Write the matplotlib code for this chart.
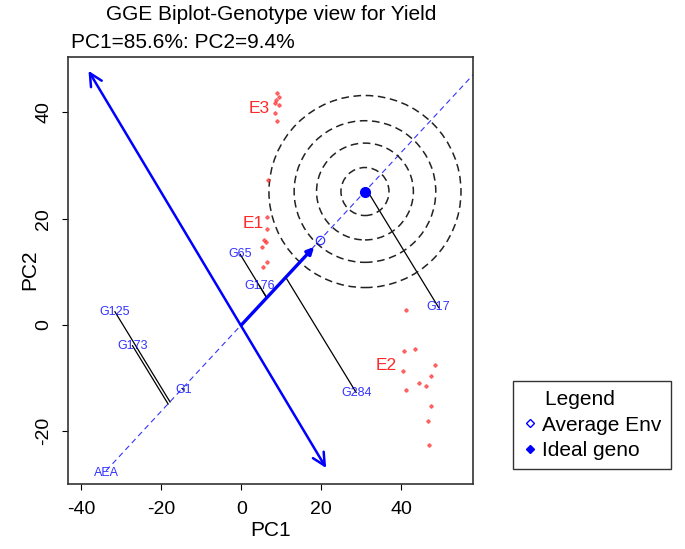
import numpy as np
import matplotlib.pyplot as plt
from matplotlib.lines import Line2D
from matplotlib.patches import Ellipse

plt.rcParams['font.family'] = ['Liberation Sans', 'DejaVu Sans']
plt.rcParams['axes.unicode_minus'] = False

# genotypes (PC1, PC2)
geno_names = ["G125", "G173", "G1", "G65", "G176", "G284", "G17"]
geno_pc1 = [-31.6, -27.2, -14.5, -0.3, 4.5, 28.7, 49.3]
geno_pc2 = [2.5, -3.9, -12.2, 13.3, 7.4, -12.7, 3.3]

# environments (unlabelled points) and their group labels
env_pc1 = [8.8, 9.3, 8.7, 8.4, 9.3, 8.4, 8.8,
           6.75, 6.5, 6.3, 5.7, 6.1, 5.2, 6.5, 5.5,
           41.2, 40.6, 43.4, 40.3, 48.4, 47.5, 44.3, 46.1, 41.2, 47.4, 46.7, 46.9]
env_pc2 = [43.6, 42.9, 42.4, 41.7, 41.4, 39.8, 38.3,
           27.3, 20.4, 18.0, 16.0, 15.7, 14.7, 11.9, 11.0,
           2.8, -4.8, -4.6, -8.6, -7.6, -9.6, -11.0, -11.5, -12.3, -15.2, -18.0, -22.5]
env_group_names = ["E3", "E1", "E2"]
env_group_pc1 = [4.5, 3.0, 36.3]
env_group_pc2 = [40.8, 19.0, -7.7]

avg_env = (19.7, 16.0)
avg_arrow_tip = (18.2, 14.7)
ideal_geno = (30.9, 25.1)
ring_radii = [6.0, 12.1, 17.7, 24.0]   # in PC1 units
perp_ends = [(-38.2, 47.8), (21.2, -26.9)]
aea_start = (-33.8, -27.4)

xlim = (-43.25, 57.9)
ylim = (-29.9, 50.4)

fig = plt.figure(figsize=(6.85, 5.49), dpi=100)
ax = fig.add_axes([0.0997, 0.1184, 0.5908, 0.7778])
ax.set_xlim(xlim)
ax.set_ylim(ylim)

blue = '#0000ff'
red = '#ff2a2a'

# average environment axis (through origin)
d = np.array(avg_env) / np.hypot(*avg_env)
t_end = (xlim[1] + 5) / d[0]
ax.plot([aea_start[0], d[0] * t_end], [aea_start[1], d[1] * t_end],
        color=blue, lw=0.8, alpha=0.8, dashes=(5, 3.5), zorder=2)

# projection lines of genotypes onto the axis
for gx, gy in zip(geno_pc1, geno_pc2):
    s = gx * d[0] + gy * d[1]
    ax.plot([gx, s * d[0]], [gy, s * d[1]], color='black', lw=0.9, zorder=2)

# perpendicular double arrow
ax.annotate('', xy=perp_ends[1], xytext=perp_ends[0],
            arrowprops=dict(arrowstyle='<->,head_length=0.9,head_width=0.45',
                            color=blue, lw=1.8, shrinkA=0, shrinkB=0), zorder=3)

# thick arrow to average environment
ax.annotate('', xy=avg_arrow_tip, xytext=(0, 0),
            arrowprops=dict(arrowstyle='-|>,head_length=0.4,head_width=0.2',
                            color=blue, lw=2.4, shrinkA=0, shrinkB=0), zorder=3)

# concentric rings round the ideal genotype (round on screen)
fig.canvas.draw()
p0 = ax.transData.transform((0, 0))
p1 = ax.transData.transform((1, 1))
ratio = (p1[0] - p0[0]) / (p1[1] - p0[1])
for r in ring_radii:
    ax.add_patch(Ellipse(ideal_geno, 2 * r, 2 * r * ratio, fill=False,
                         edgecolor='#222222', lw=1.1, ls=(0, (5, 3)), zorder=2))

ax.plot(*avg_env, 'o', mfc='none', mec=blue, ms=6, mew=0.9, alpha=0.8, zorder=4)
ax.plot(*ideal_geno, 'o', color=blue, ms=7, zorder=4)

ax.plot(env_pc1, env_pc2, 'D', color=red, ms=1.9, alpha=0.6, lw=0, zorder=3)
for name, x, y in zip(env_group_names, env_group_pc1, env_group_pc2):
    ax.text(x, y, name, color=red, fontsize=12.5, ha='center', va='center')

for name, x, y in zip(geno_names, geno_pc1, geno_pc2):
    ax.text(x, y, name, color=blue, fontsize=9, alpha=0.8, ha='center',
            va='center', zorder=5)
ax.text(aea_start[0], aea_start[1] - 0.5, "AEA", color=blue, fontsize=9,
        alpha=0.8, ha='center', va='center')

ax.set_xticks([-40, -20, 0, 20, 40])
ax.set_yticks([-20, 0, 20, 40])
ax.tick_params(axis='both', direction='out', length=4.5, width=0.8, labelsize=14)
ax.tick_params(axis='x', pad=8)
ax.tick_params(axis='y', pad=7)
for lbl in ax.get_yticklabels():
    lbl.set_rotation(90)
    lbl.set_va('center')
for sp in ax.spines.values():
    sp.set_linewidth(1.2)
    sp.set_color('#333333')

fig.text(270.6 / 685, 1 - 530 / 549, "PC1", fontsize=15, ha='center', va='center')
fig.text(30 / 685, 1 - 270 / 549, "PC2", fontsize=15, rotation=90,
         ha='center', va='center')

fig.text(0.396, 0.973, "GGE Biplot-Genotype view for Yield", fontsize=15,
         ha='center', va='center')
fig.text(0.1036, 0.922, "PC1=85.6%: PC2=9.4%", fontsize=15, ha='left', va='center')

handles = [Line2D([], [], marker='D', ls='', mfc='none', mec=blue, ms=4, mew=1),
           Line2D([], [], marker='D', ls='', color=blue, ms=4)]
leg = fig.legend(handles, ["Average Env", "Ideal geno"], title="    Legend",
                 loc='upper left', bbox_to_anchor=(0.749, 0.306),
                 fontsize=15, title_fontsize=15, frameon=True, fancybox=False,
                 handlelength=0.75, handletextpad=0.2, borderpad=0.45,
                 labelspacing=0.3, borderaxespad=0, alignment='left')
leg.get_frame().set_edgecolor('black')
leg.get_frame().set_linewidth(1.0)

fig.savefig("out.png", dpi=100)
